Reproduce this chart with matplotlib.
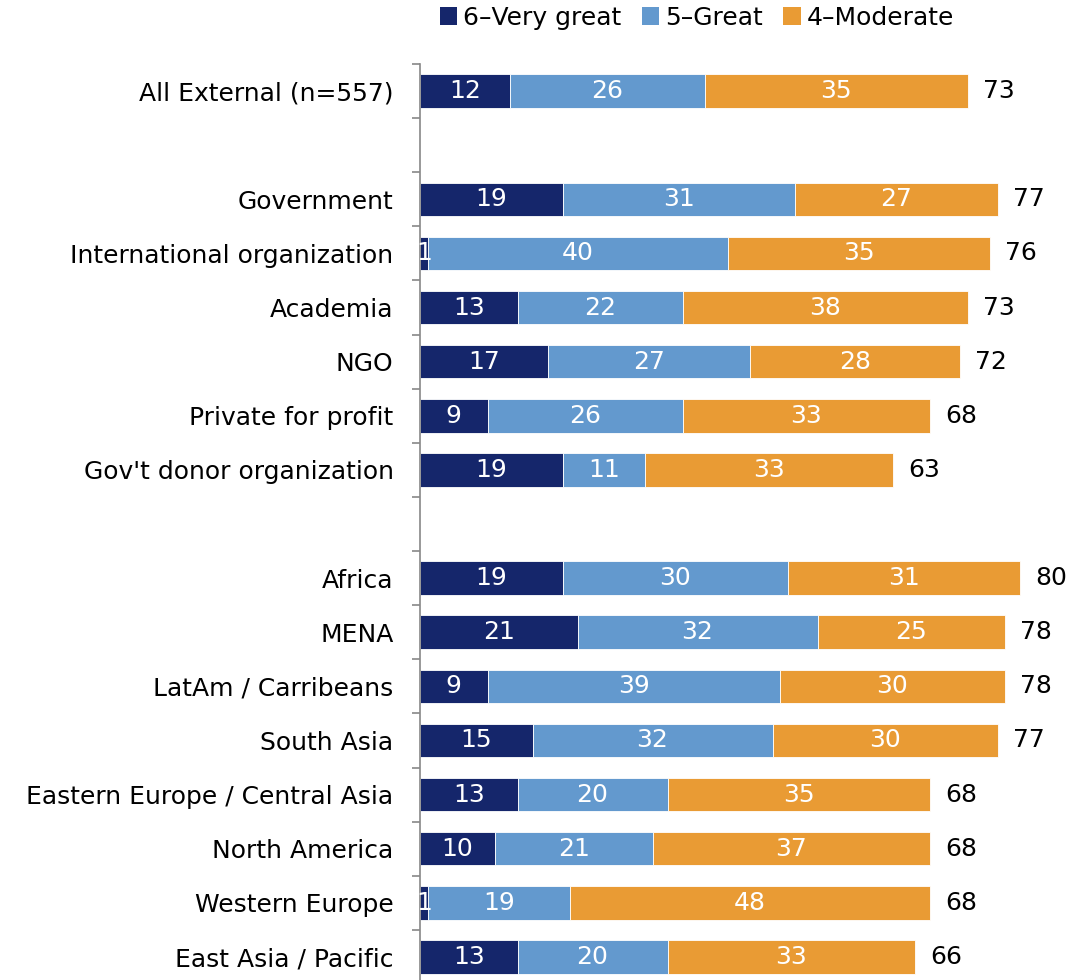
import numpy as np
import matplotlib
matplotlib.use("Agg")
import matplotlib.pyplot as plt
from matplotlib.patches import Patch

# row labels (None = blank spacer row)
categories = [
    "All External (n=557)", None,
    "Government", "International organization", "Academia", "NGO",
    "Private for profit", "Gov't donor organization", None,
    "Africa", "MENA", "LatAm / Carribeans", "South Asia",
    "Eastern Europe / Central Asia", "North America", "Western Europe",
    "East Asia / Pacific",
]
very_great = [12, None, 19, 1, 13, 17, 9, 19, None, 19, 21, 9, 15, 13, 10, 1, 13]
great = [26, None, 31, 40, 22, 27, 26, 11, None, 30, 32, 39, 32, 20, 21, 19, 20]
moderate = [35, None, 27, 35, 38, 28, 33, 33, None, 31, 25, 30, 30, 35, 37, 48, 33]
totals = [73, None, 77, 76, 73, 72, 68, 63, None, 80, 78, 78, 77, 68, 68, 68, 66]

series_names = ["6\u2013Very great", "5\u2013Great", "4\u2013Moderate"]
colors = ["#15266B", "#6399CE", "#E99B34"]

plt.rcParams['font.family'] = ['DejaVu Sans']
fs = 18

fig = plt.figure(figsize=(10.76, 9.8), dpi=100)
# axis spans slots -0.5..16.5 -> y px 64..984, x from 420 px
ax = fig.add_axes([420 / 1076, 1 - 984 / 980, 1 - 420 / 1076, 920 / 980])

rows = [i for i, c in enumerate(categories) if c is not None]
y = np.array(rows)
series = [very_great, great, moderate]
left = np.zeros(len(rows))
bar_h = 0.62
for vals, col in zip(series, colors):
    v = np.array([vals[i] for i in rows], dtype=float)
    ax.barh(y, v, left=left, height=bar_h, color=col, edgecolor="white", linewidth=0.6)
    for yi, l, w in zip(y, left, v):
        ax.text(l + w / 2, yi, f"{int(w)}", ha="center", va="center",
                color="white", fontsize=fs)
    left = left + v

for yi, end, r in zip(y, left, rows):
    ax.annotate(f"{totals[r]}", (end, yi), xytext=(11, 0), textcoords="offset points",
                ha="left", va="center", fontsize=fs, color="black")

ax.set_xlim(0, (1076 - 420) / 7.5)
ax.set_ylim(16.5, -0.5)
ax.set_yticks(np.arange(-0.5, 17, 1))
ax.set_yticklabels([])
ax.set_yticks(y, minor=True)
ax.set_yticklabels([categories[r] for r in rows], minor=True, fontsize=fs)
ax.tick_params(axis="y", which="major", length=6, width=1.2, color="#888888", direction="out")
ax.tick_params(axis="y", which="minor", length=0, pad=19)
ax.set_xticks([])
for s in ["top", "right", "bottom"]:
    ax.spines[s].set_visible(False)
ax.spines["left"].set_color("#888888")
ax.spines["left"].set_linewidth(1.2)

handles = [Patch(facecolor=c, edgecolor="none") for c in colors]
fig.legend(handles, series_names, loc="center", bbox_to_anchor=(697 / 1076, 1 - 18 / 980),
           ncol=3, frameon=False, fontsize=fs, handlelength=0.7, handleheight=0.7,
           handletextpad=0.25, columnspacing=0.8)

fig.savefig("out.png", dpi=100)
